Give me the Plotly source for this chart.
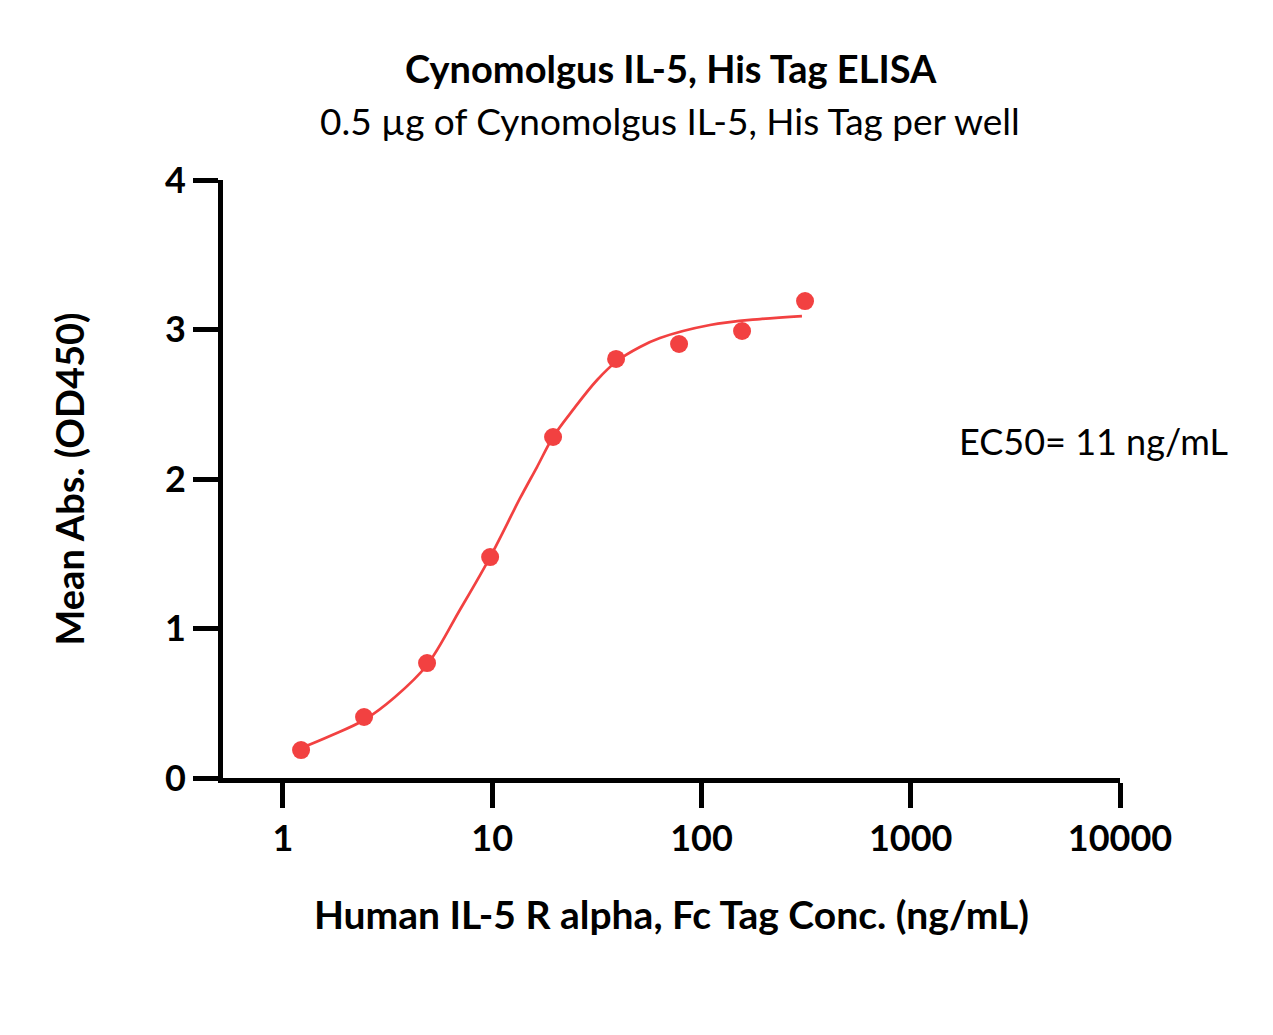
import plotly.graph_objects as go

# Measured data points
conc = [1.22, 2.44, 4.88, 9.77, 19.53, 39.06, 78.125, 156.25, 312.5]
od450 = [0.187, 0.408, 0.769, 1.478, 2.281, 2.803, 2.903, 2.990, 3.19]

# Fitted curve
curve_x = [1.22, 1.677, 2.44, 3.43, 4.88, 7.0, 9.77, 13.6, 16.36, 19.53, 24.3, 31.7,
           39.5, 50.8, 63.3, 109.8, 190.4, 302]
curve_y = [0.20, 0.281, 0.388, 0.542, 0.756, 1.124, 1.478, 1.873, 2.080, 2.281, 2.462, 2.662,
           2.789, 2.883, 2.943, 3.030, 3.070, 3.090]

x_tickvals = [1, 10, 100, 1000, 10000]
x_ticktext = ["1", "10", "100", "1000", "10000"]
y_tickvals = [0, 1, 2, 3, 4]

red = "#F24141"
font_family = "Lato, 'Open Sans', sans-serif"

L, R, T, B = 223, 153, 180, 257
W, H = 1273, 1035
plot_w = W - L - R
plot_h = H - T - B


def px_to_paper(px, py):
    return (px - L) / plot_w, (H - B - py) / plot_h


fig = go.Figure()
fig.add_trace(go.Scatter(x=curve_x, y=curve_y, mode="lines",
                         line=dict(color=red, width=2.7, shape="spline", smoothing=1.0),
                         hoverinfo="skip", showlegend=False))
fig.add_trace(go.Scatter(x=conc, y=od450, mode="markers",
                         marker=dict(color=red, size=18),
                         showlegend=False))

t_x, t_y = px_to_paper(671, 68)
s_x, s_y = px_to_paper(670, 120)
e_x, e_y = px_to_paper(1093, 441)

fig.update_layout(
    width=W, height=H,
    paper_bgcolor="white", plot_bgcolor="white",
    margin=dict(l=L, r=R, t=T, b=B),
    font=dict(family=font_family, color="black"),
    annotations=[
        dict(text="<b>Cynomolgus IL-5, His Tag ELISA</b>", x=t_x, y=t_y,
             xref="paper", yref="paper", xanchor="center", yanchor="middle",
             showarrow=False, font=dict(size=38)),
        dict(text="0.5 µg of Cynomolgus IL-5, His Tag per well", x=s_x, y=s_y,
             xref="paper", yref="paper", xanchor="center", yanchor="middle",
             showarrow=False, font=dict(size=37)),
        dict(text="EC50= 11 ng/mL", x=e_x, y=e_y,
             xref="paper", yref="paper", xanchor="center", yanchor="middle",
             showarrow=False, font=dict(size=36)),
    ],
)

fig.update_xaxes(type="log", range=[-0.2867, 4.0],
                 tickvals=x_tickvals, ticktext=x_ticktext,
                 showline=True, linecolor="black", linewidth=5,
                 ticks="outside", ticklen=25, tickwidth=5, tickcolor="black",
                 tickfont=dict(size=36, family=font_family, weight="bold"),
                 showgrid=False, zeroline=False,
                 title=dict(text="<b>Human IL-5 R alpha, Fc Tag Conc. (ng/mL)</b>",
                            font=dict(size=39), standoff=45))
fig.update_yaxes(range=[0, 4], tickvals=y_tickvals,
                 showline=True, linecolor="black", linewidth=5,
                 ticks="outside", ticklen=25, tickwidth=5, tickcolor="black",
                 tickfont=dict(size=36, family=font_family, weight="bold"),
                 showgrid=False, zeroline=False,
                 title=dict(text="<b>Mean Abs. (OD450)</b>", font=dict(size=38), standoff=70))

fig.write_html("out.html")
